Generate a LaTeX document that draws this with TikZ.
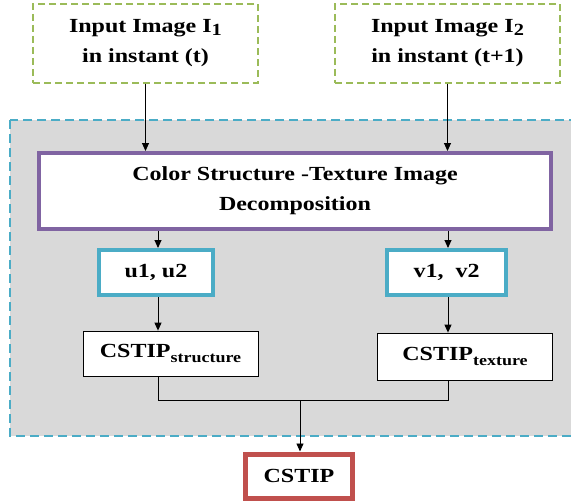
\documentclass[tikz,border=0pt]{standalone}
\usepackage{fontspec}
\setmainfont[FakeStretch=1.2]{Liberation Serif}
\usetikzlibrary{arrows.meta}
\definecolor{cgreen}{HTML}{9BBB59}
\definecolor{ccyan}{HTML}{4BACC6}
\definecolor{cpurple}{HTML}{8064A2}
\definecolor{cred}{HTML}{C0504D}
\definecolor{cgray}{HTML}{D9D9D9}
\newcommand{\subtxt}[2]{\raisebox{#1}{\fontsize{15}{15}\selectfont #2}}
\begin{document}
\begin{tikzpicture}[x=1pt,y=-1pt,
  txt/.style={font=\fontsize{20}{30}\selectfont\bfseries, align=center, inner sep=0pt},
  inbox/.style={txt, draw=cgreen, line width=1.2pt, dash pattern=on 7pt off 4pt, fill=white, minimum width=225pt, minimum height=79pt},
  decbox/.style={txt, draw=cpurple, line width=4pt, fill=white, minimum width=512pt, minimum height=76pt},
  uvbox/.style={txt, draw=ccyan, line width=4pt, fill=white, minimum height=45pt},
  resbox/.style={txt, draw=black, line width=0.8pt, fill=white, minimum width=175pt},
  outbox/.style={txt, draw=cred, line width=5pt, fill=white, minimum width=107pt, minimum height=44pt},
  arr/.style={line width=0.9pt, -{Triangle[length=8pt,width=7pt]}},
  con/.style={line width=0.9pt}]
\useasboundingbox (0,0) rectangle (571,503);
% gray background region
\draw[fill=cgray, draw=ccyan, line width=1.5pt, dash pattern=on 9pt off 5pt] (10,120) rectangle (580,436);
% nodes
\node[inbox] (in1) at (145.5,43.5) {Input Image I\subtxt{-3pt}{\fontsize{17}{17}\selectfont 1}\\in instant (t)};
\node[inbox] (in2) at (447.5,43.5) {Input Image I\subtxt{-3pt}{\fontsize{17}{17}\selectfont 2}\\in instant (t+1)};
\node[decbox] (dec) at (295,191) {Color Structure -Texture Image\\Decomposition};
\node[uvbox, minimum width=114pt] (u) at (156,272.5) {u1, u2};
\node[uvbox, minimum width=119pt] (v) at (446.5,272.5) {v1,\ \ v2};
\node[resbox, minimum height=45pt] (st) at (170.5,353.5) {CSTIP\subtxt{-5pt}{structure}};
\node[resbox, minimum height=47pt] (tx) at (465,356.5) {CSTIP\subtxt{-5pt}{texture}};
\node[outbox] (out) at (299,476) {CSTIP};
% connectors
\draw[arr] (in1.south) -- (in1.south |- dec.north);
\draw[arr] (in2.south) -- (in2.south |- dec.north);
\draw[arr] (dec.south -| 158,0) -- (u.north -| 158,0);
\draw[arr] (dec.south -| 448,0) -- (v.north -| 448,0);
\draw[arr] (u.south -| 158,0) -- (st.north -| 158,0);
\draw[arr] (v.south -| 448,0) -- (tx.north -| 448,0);
\coordinate (jl) at (158,400);
\coordinate (jr) at (448,400);
\coordinate (jc) at (300,400);
\draw[con] (st.south -| jl) -- (jl) -- (jr) -- (tx.south -| jr);
\draw[arr] (jc) -- (out.north -| jc);
\end{tikzpicture}
\end{document}
